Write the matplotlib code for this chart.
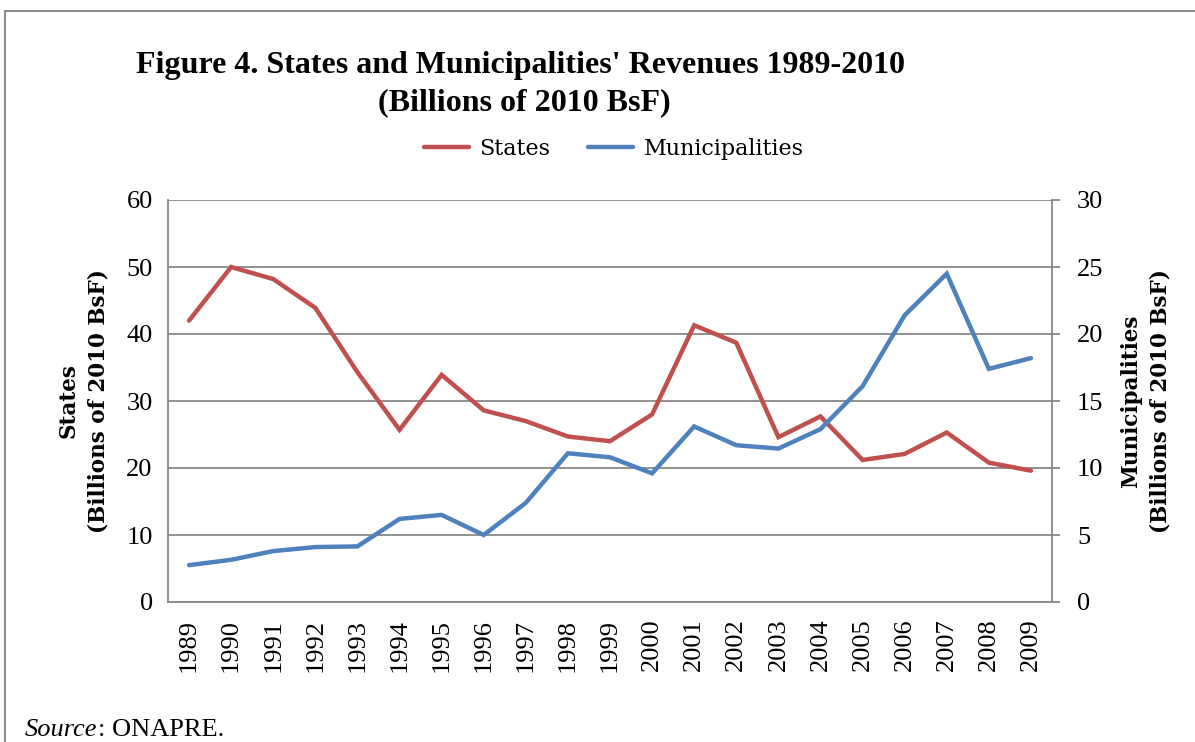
import numpy as np
import matplotlib
matplotlib.use("Agg")
import matplotlib.pyplot as plt
from matplotlib.patches import Rectangle

years = [str(y) for y in range(1989, 2010)]
states = [42.0, 50.0, 48.2, 43.9, 34.3, 25.7, 33.9, 28.6, 27.0, 24.7, 24.0,
          28.0, 41.3, 38.7, 24.6, 27.7, 21.2, 22.1, 25.3, 20.8, 19.6]
municipalities = [2.75, 3.15, 3.8, 4.1, 4.15, 6.2, 6.5, 5.0, 7.4, 11.1, 10.8,
                  9.6, 13.1, 11.7, 11.45, 12.9, 16.1, 21.4, 24.5, 17.4, 18.2]
left_ticks = [0, 10, 20, 30, 40, 50, 60]
right_ticks = [0, 5, 10, 15, 20, 25, 30]

red = '#C0504D'
blue = '#4F81BD'
gridc = '#888888'

fig = plt.figure(figsize=(11.95, 7.42), dpi=100)
ax = fig.add_axes([168 / 1195, 1 - 602 / 742, 884 / 1195, 402 / 742])
ax2 = ax.twinx()

x = np.arange(len(years))
l1, = ax.plot(x, states, color=red, lw=3.2, solid_capstyle='round', solid_joinstyle='miter', zorder=3)
l2, = ax2.plot(x, municipalities, color=blue, lw=3.2, solid_capstyle='round', solid_joinstyle='miter', zorder=3)

ax.set_xlim(-0.5, len(years) - 0.5)
ax.set_ylim(0, 60)
ax2.set_ylim(0, 30)
ax.set_yticks(left_ticks)
ax2.set_yticks(right_ticks)
ax.set_xticks(x)
ax.set_xticklabels(years, rotation=90, fontfamily='Liberation Serif', fontsize=19)
ax.set_yticklabels([str(t) for t in left_ticks], fontfamily='Liberation Serif', fontsize=19)
ax2.set_yticklabels([str(t) for t in right_ticks], fontfamily='Liberation Serif', fontsize=19)

ax.grid(axis='y', color=gridc, lw=1.3)
ax.set_axisbelow(True)
ax.tick_params(axis='x', length=0, pad=12)
ax.tick_params(axis='y', length=0, pad=11)
ax2.tick_params(axis='y', length=6, width=1.3, color=gridc, direction='out', pad=12)

for a in (ax, ax2):
    for s in a.spines.values():
        s.set_visible(False)
ax.spines['left'].set_visible(True)
ax.spines['bottom'].set_visible(True)
ax2.spines['right'].set_visible(True)
for s in (ax.spines['left'], ax.spines['bottom'], ax2.spines['right']):
    s.set_color(gridc)
    s.set_linewidth(1.3)

ax.set_ylabel('States\n(Billions of 2010 BsF)', fontfamily='DejaVu Serif', fontweight='bold',
              fontsize=15.5, labelpad=12, linespacing=1.45)
ax2.set_ylabel('Municipalities\n(Billions of 2010 BsF)', fontfamily='DejaVu Serif', fontweight='bold',
               fontsize=15.5, labelpad=12, linespacing=1.45, rotation=90)

fig.text(520 / 1195, 1 - 66 / 742, "Figure 4. States and Municipalities' Revenues 1989-2010",
         ha='center', va='center', fontfamily='Liberation Serif', fontweight='bold', fontsize=23)
fig.text(524 / 1195, 1 - 103 / 742, "(Billions of 2010 BsF)",
         ha='center', va='center', fontfamily='Liberation Serif', fontweight='bold', fontsize=23)

fig.legend([l1, l2], ['States', 'Municipalities'], loc='center', ncol=2,
           bbox_to_anchor=(614 / 1195, 1 - 149 / 742), frameon=False,
           prop={'family': 'DejaVu Serif', 'size': 16},
           handlelength=2.0, handletextpad=0.5, columnspacing=1.7)

# source note: italic "Source" followed by plain text
src = fig.text(25 / 1195, 1 - 736 / 742, "Source", style='italic', ha='left', va='baseline',
               fontfamily='Liberation Serif', fontsize=19)
ax.annotate(": ONAPRE.", xy=(1, 0), xycoords=src, ha='left', va='bottom',
            fontfamily='Liberation Serif', fontsize=19, annotation_clip=False)

fig.patches.append(Rectangle((5 / 1195, -0.1), 1.2, 1.1 - 11 / 742, transform=fig.transFigure,
                             fill=False, edgecolor='#8c8c8c', lw=1.5))

fig.savefig('out.png', dpi=100)
